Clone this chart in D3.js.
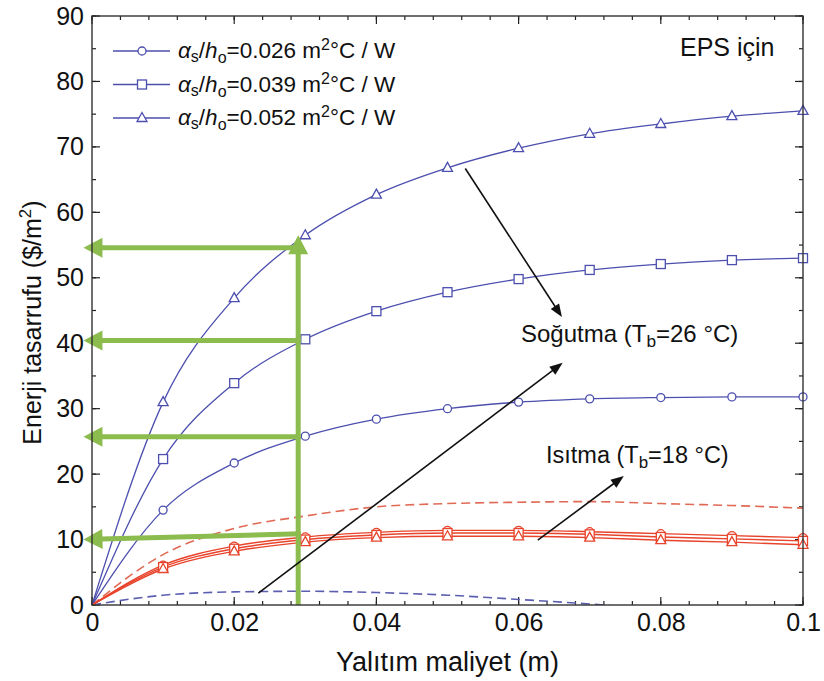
<!DOCTYPE html>
<html><head><meta charset="utf-8">
<script src="https://cdn.jsdelivr.net/npm/d3@7"></script>
<style>body{margin:0;background:#fff} svg{display:block} text{font-family:"Liberation Sans",Arial,sans-serif}</style>
</head><body><svg id="c" width="824" height="681"></svg>
<script>
// ---------- data ----------
const xValues = [0, 0.01, 0.02, 0.03, 0.04, 0.05, 0.06, 0.07, 0.08, 0.09, 0.1];
// Cooling (Soğutma) – blue, solid
const coolCircle   = [0, 14.5, 21.7, 25.8, 28.4, 30.0, 31.0, 31.5, 31.7, 31.8, 31.8];
const coolSquare   = [0, 22.3, 33.9, 40.6, 44.9, 47.8, 49.8, 51.2, 52.1, 52.7, 53.0];
const coolTriangle = [0, 31.0, 46.9, 56.5, 62.7, 66.8, 69.8, 72.0, 73.5, 74.7, 75.5];
// Heating (Isıtma) – red, solid
const heatCircle   = [0, 6.1, 9.0, 10.4, 11.1, 11.4, 11.4, 11.2, 10.9, 10.6, 10.3];
const heatSquare   = [0, 5.8, 8.6, 10.0, 10.7, 11.0, 11.0, 10.8, 10.4, 10.1, 9.8];
const heatTriangle = [0, 5.5, 8.2, 9.6, 10.3, 10.5, 10.5, 10.3, 9.9, 9.6, 9.2];
// dashed reference curves
const redDashed  = [0, 7.7, 11.7, 13.6, 15.0, 15.5, 15.7, 15.8, 15.5, 15.2, 14.8];
const blueDashedX = [0, 0.01, 0.02, 0.03, 0.04, 0.05, 0.06, 0.07, 0.08];
const blueDashed  = [0, 1.5, 2.0, 2.1, 1.9, 1.5, 0.85, 0.15, -0.7];
// legend
const legendLabels = ["0.026", "0.039", "0.052"];
const legendSymbols = ["circle", "square", "triangle"];
// ticks
const xMajorTicks = [0, 0.02, 0.04, 0.06, 0.08, 0.1];
const xTickLabels = ["0", "0.02", "0.04", "0.06", "0.08", "0.1"];
const yMajorTicks = [0, 10, 20, 30, 40, 50, 60, 70, 80, 90];
// green read-off arrows
const readX = 0.029;
const readTop = 56.5;
const readLevels = [[54.6, 54.6], [40.4, 40.4], [25.7, 25.7], [10.9, 10.0]]; // [at readX, at axis]
const readTipX = -0.0012;
// black annotation arrows [x1,y1,x2,y2]
const blackArrows = [
  [0.0525, 66.7, 0.0661, 44.0],
  [0.0234, 1.8, 0.0662, 37.0],
  [0.0627, 9.9, 0.0748, 19.7]
];

// ---------- layout ----------
const svg = d3.select("#c");
const L = 92, R = 803, T = 16, B = 605;
const x = d3.scaleLinear().domain([0, 0.1]).range([L, R]);
const y = d3.scaleLinear().domain([0, 90]).range([B, T]);
const BLUE = "#4c4fae", RED = "#e8432b", REDD = "#e06a55", BLUED = "#5c5fb0", GREEN = "#8cbb4e";

svg.append("defs").append("clipPath").attr("id", "clip")
  .append("rect").attr("x", L).attr("y", T).attr("width", R - L).attr("height", B - T);

// ---------- axes ----------
const xMinor = d3.range(0, 0.1001, 0.004);
const yMinor = d3.range(0, 90.01, 5);
function tickLines(g, vals, len, orient) {
  vals.forEach(v => {
    if (orient === "b") g.append("line").attr("x1", x(v)).attr("x2", x(v)).attr("y1", B).attr("y2", B - len);
    if (orient === "t") g.append("line").attr("x1", x(v)).attr("x2", x(v)).attr("y1", T).attr("y2", T + len);
    if (orient === "l") g.append("line").attr("y1", y(v)).attr("y2", y(v)).attr("x1", L).attr("x2", L + len);
    if (orient === "r") g.append("line").attr("y1", y(v)).attr("y2", y(v)).attr("x1", R).attr("x2", R - len);
  });
}
const tg = svg.append("g").attr("stroke", "#222").attr("stroke-width", 1.2);
tickLines(tg, xMinor, 4, "b"); tickLines(tg, xMajorTicks, 8, "b");
tickLines(tg, xMinor, 4, "t"); tickLines(tg, xMajorTicks, 8, "t");
tickLines(tg, yMinor, 4, "l"); tickLines(tg, yMajorTicks, 8, "l");
tickLines(tg, yMinor, 4, "r"); tickLines(tg, yMajorTicks, 8, "r");

const xAxis = d3.axisBottom(x).tickValues(xMajorTicks).tickSize(0).tickPadding(0)
  .tickFormat((d, i) => xTickLabels[i]);
const gx = svg.append("g").attr("transform", `translate(0,${B})`).call(xAxis);
gx.select(".domain").remove();
gx.selectAll("text").attr("font-size", 25).attr("fill", "#111").attr("dy", "1.05em")
  .attr("font-family", "'Liberation Sans',Arial,sans-serif");
const yAxis = d3.axisLeft(y).tickValues(yMajorTicks).tickSize(0).tickPadding(8);
const gy = svg.append("g").attr("transform", `translate(${L},0)`).call(yAxis);
gy.select(".domain").remove();
gy.selectAll("text").attr("font-size", 25).attr("fill", "#111")
  .attr("font-family", "'Liberation Sans',Arial,sans-serif");

// ---------- curves ----------
const plot = svg.append("g").attr("clip-path", "url(#clip)");
const line = d3.line().x(d => x(d[0])).y(d => y(d[1])).curve(d3.curveMonotoneX);
const zip = (xs, ys) => xs.map((v, i) => [v, ys[i]]);

plot.append("path").attr("d", line(zip(blueDashedX, blueDashed)))
  .attr("fill", "none").attr("stroke", BLUED).attr("stroke-width", 1.6).attr("stroke-dasharray", "9,5");
plot.append("path").attr("d", line(zip(xValues, redDashed)))
  .attr("fill", "none").attr("stroke", REDD).attr("stroke-width", 1.6).attr("stroke-dasharray", "9,5");

[coolCircle, coolSquare, coolTriangle].forEach(s => {
  plot.append("path").attr("d", line(zip(xValues, s))).attr("fill", "none").attr("stroke", BLUE).attr("stroke-width", 1.3);
});
[heatCircle, heatSquare, heatTriangle].forEach(s => {
  plot.append("path").attr("d", line(zip(xValues, s))).attr("fill", "none").attr("stroke", RED).attr("stroke-width", 1.4);
});

function marker(g, type, cx, cy, color) {
  if (type === "circle") g.append("circle").attr("cx", cx).attr("cy", cy).attr("r", 4)
    .attr("fill", "#fff").attr("stroke", color).attr("stroke-width", 1.3);
  if (type === "square") g.append("rect").attr("x", cx - 4.5).attr("y", cy - 4.5).attr("width", 9).attr("height", 9)
    .attr("fill", "#fff").attr("stroke", color).attr("stroke-width", 1.3);
  if (type === "triangle") g.append("path").attr("d", `M${cx},${cy - 5.5}L${cx + 5},${cy + 3.5}L${cx - 5},${cy + 3.5}Z`)
    .attr("fill", "#fff").attr("stroke", color).attr("stroke-width", 1.3);
}
const mg = svg.append("g");
[[coolCircle, "circle"], [coolSquare, "square"], [coolTriangle, "triangle"]].forEach(([s, t]) => {
  xValues.forEach((v, i) => { if (i > 0) marker(mg, t, x(v), y(s[i]), BLUE); });
});
[[heatCircle, "circle"], [heatSquare, "square"], [heatTriangle, "triangle"]].forEach(([s, t]) => {
  xValues.forEach((v, i) => { if (i > 0) marker(mg, t, x(v), y(s[i]), RED); });
});

// ---------- arrows ----------
function arrow(g, x1, y1, x2, y2, color, w, hl, hw) {
  const dx = x2 - x1, dy = y2 - y1, len = Math.hypot(dx, dy);
  const ux = dx / len, uy = dy / len;
  const bx = x2 - ux * hl, by = y2 - uy * hl;
  g.append("line").attr("x1", x1).attr("y1", y1).attr("x2", bx + ux * 1).attr("y2", by + uy * 1)
    .attr("stroke", color).attr("stroke-width", w);
  g.append("path").attr("d", `M${x2},${y2}L${bx - uy * hw},${by + ux * hw}L${bx + uy * hw},${by - ux * hw}Z`)
    .attr("fill", color);
}
const ag = svg.append("g");
// green read-off
arrow(ag, x(readX), y(0), x(readX), y(readTop), GREEN, 5, 19, 10);
readLevels.forEach(([a, b]) => arrow(ag, x(readX) + 2.5, y(a), x(readTipX), y(b), GREEN, 5, 19, 10));
// black
blackArrows.forEach(([a, b, c, d]) => arrow(ag, x(a), y(b), x(c), y(d), "#111", 1.6, 13, 5));

// frame
svg.append("rect").attr("x", L).attr("y", T).attr("width", R - L).attr("height", B - T)
  .attr("fill", "none").attr("stroke", "#333").attr("stroke-width", 1.4);

// ---------- legend ----------
const lg = svg.append("g");
legendLabels.forEach((lab, i) => {
  const cy = 51 + i * 33.5;
  lg.append("line").attr("x1", 113).attr("x2", 170).attr("y1", cy).attr("y2", cy).attr("stroke", BLUE).attr("stroke-width", 1.3);
  marker(lg, legendSymbols[i], 142, cy, BLUE);
  const t = lg.append("text").attr("x", 178).attr("y", cy + 7).attr("font-size", 22.5).attr("fill", "#111");
  t.append("tspan").attr("font-style", "italic").text("α");
  t.append("tspan").attr("font-size", 16).attr("dy", 4).text("s");
  t.append("tspan").attr("dy", -4).text("/");
  t.append("tspan").attr("font-style", "italic").text("h");
  t.append("tspan").attr("font-size", 16).attr("dy", 5).text("o");
  t.append("tspan").attr("dy", -5).text("=" + lab + " m");
  t.append("tspan").attr("font-size", 16).attr("dy", -8).text("2");
  t.append("tspan").attr("dy", 8).text("°C / W");
});

// ---------- annotations ----------
svg.append("text").attr("x", 680).attr("y", 56).attr("font-size", 25).attr("fill", "#111").text("EPS için");
function tbLabel(xp, yp, pre, post, fs) {
  const t = svg.append("text").attr("x", xp).attr("y", yp).attr("font-size", fs).attr("fill", "#111");
  t.append("tspan").text(pre + " (T");
  t.append("tspan").attr("font-size", fs * 0.72).attr("dy", 5).text("b");
  t.append("tspan").attr("dy", -5).text(post);
}
tbLabel(521, 342, "Soğutma", "=26 °C)", 24);
tbLabel(546, 463, "Isıtma", "=18 °C)", 23.5);

// ---------- axis titles ----------
svg.append("text").attr("x", (L + R) / 2).attr("y", 671).attr("text-anchor", "middle")
  .attr("font-size", 27).attr("fill", "#111").text("Yalıtım maliyet (m)");
const yt = svg.append("text").attr("transform", `translate(41,${(T + B) / 2 + 12}) rotate(-90)`)
  .attr("text-anchor", "middle").attr("font-size", 25).attr("fill", "#111");
yt.append("tspan").text("Enerji tasarrufu ($/m");
yt.append("tspan").attr("font-size", 17).attr("dy", -10).text("2");
yt.append("tspan").attr("dy", 10).text(")");
</script></body></html>
